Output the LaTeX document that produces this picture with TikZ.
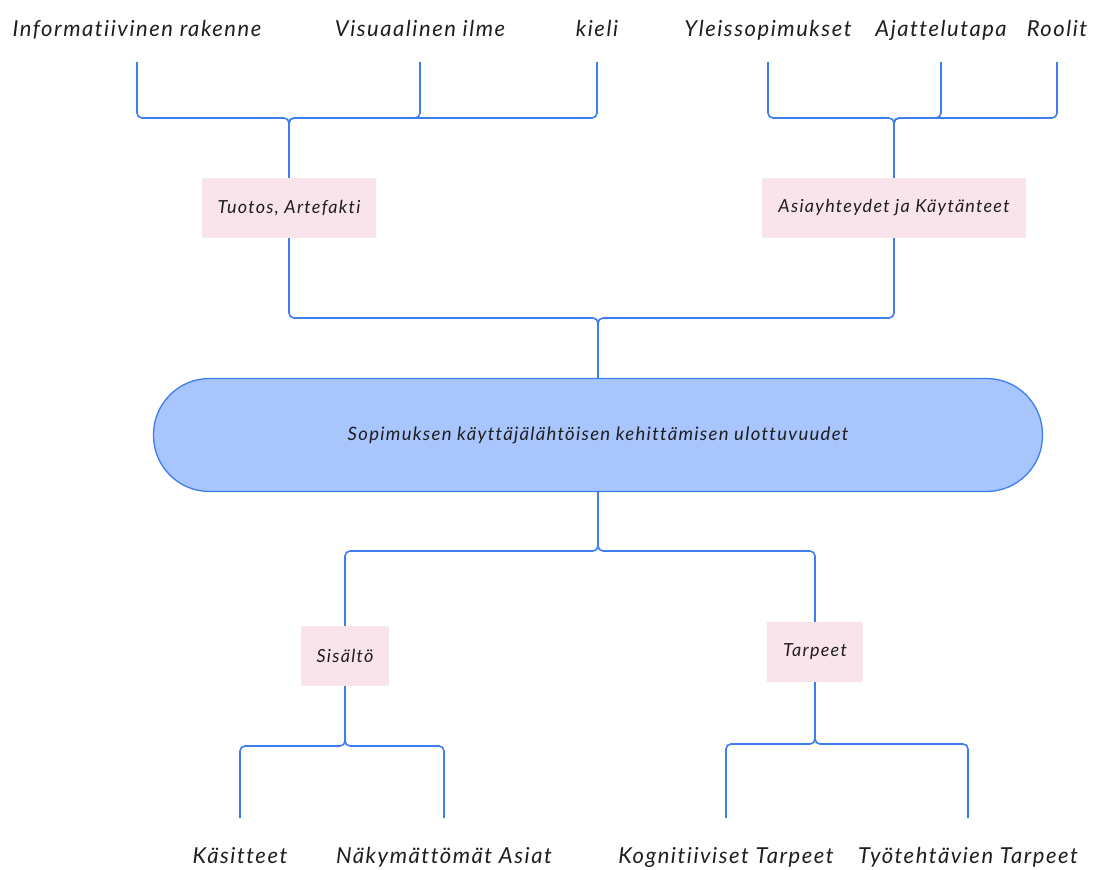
\documentclass[tikz,border=0pt]{standalone}
\usepackage{fontspec}
\setmainfont{Lato}[LetterSpace=7, Ligatures={NoCommon,NoRare}]
\definecolor{linkblue}{HTML}{3D7DF0}
\definecolor{pillblue}{HTML}{A9C5FD}
\definecolor{notepink}{HTML}{FAE4EB}
\definecolor{ink}{HTML}{1E1E1E}
\tikzset{
  link/.style={draw=linkblue, line width=1.6pt, rounded corners=5pt},
  leaf/.style={font=\fontsize{22}{26}\selectfont\itshape, text=ink, inner sep=0pt,
    text height=15pt, text depth=5pt, outer ysep=21pt},
  lowleaf/.style={leaf, outer ysep=30pt},
  note/.style={fill=notepink, text=ink, font=\fontsize{18}{21}\selectfont\itshape,
    inner xsep=16pt, minimum height=60pt},
  core/.style={draw=linkblue, fill=pillblue, text=ink, line width=1.3pt,
    rounded corners=56pt, minimum width=889pt, minimum height=113pt,
    font=\fontsize{18.5}{22}\selectfont\itshape}
}
\begin{document}
\begin{tikzpicture}[x=1pt,y=-1pt]
\useasboundingbox (0,0) rectangle (1096,870);

\node[core] (core) at (598,435) {Sopimuksen käyttäjälähtöisen kehittämisen ulottuvuudet};
\node[note] (tuotos) at (289,208) {Tuotos, Artefakti};
\node[note] (asia) at (894,208) {Asiayhteydet ja Käytänteet};
\node[note] (sisalto) at (345,656) {Sisältö};
\node[note] (tarpeet) at (815,652) {Tarpeet};

% ylärivi
\node[leaf] (info) at (137,31) {Informatiivinen rakenne};
\node[leaf] (visu) at (420,31) {Visuaalinen ilme};
\node[leaf] (kieli) at (597,31) {kieli};
\node[leaf] (yleis) at (768,31) {Yleissopimukset};
\node[leaf] (ajat) at (941,31) {Ajattelutapa};
\node[leaf] (roolit) at (1057,31) {Roolit};

% alarivi
\node[lowleaf] (kasit) at (240,858) {Käsitteet};
\node[lowleaf] (nakym) at (444,858) {Näkymättömät Asiat};
\node[lowleaf] (kogn) at (726,858) {Kognitiiviset Tarpeet};
\node[lowleaf] (tyot) at (968,858) {Työtehtävien Tarpeet};

\coordinate (jt) at (289,118);
\coordinate (ja) at (894,118);
\coordinate (jc) at (598,318);
\coordinate (jd) at (598,551);
\coordinate (js) at (345,746);
\coordinate (jp) at (815,744);

\foreach \leaf in {info,visu,kieli}
  \draw[link] (\leaf.south) |- (jt) -- (tuotos.north);
\foreach \leaf in {yleis,ajat,roolit}
  \draw[link] (\leaf.south) |- (ja) -- (asia.north);
\foreach \note in {tuotos,asia}
  \draw[link] (\note.south) |- (jc) -- (core.north);
\foreach \note in {sisalto,tarpeet}
  \draw[link] (core.south) -- (jd) -| (\note.north);
\foreach \leaf in {kasit,nakym}
  \draw[link] (sisalto.south) -- (js) -| (\leaf.north);
\foreach \leaf in {kogn,tyot}
  \draw[link] (tarpeet.south) -- (jp) -| (\leaf.north);
\end{tikzpicture}
\end{document}
